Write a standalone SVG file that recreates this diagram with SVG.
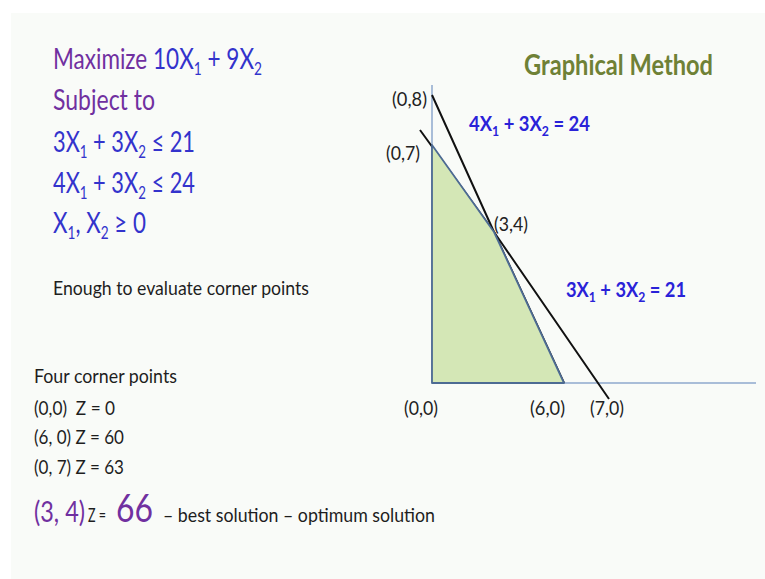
<svg xmlns="http://www.w3.org/2000/svg" width="765" height="579" viewBox="0 0 765 579">
<style>
text{font-family:Lato,"Open Sans","DejaVu Sans",sans-serif;}
.main{font-size:28px;fill:#3333cc;}
.pur{fill:#7030a0;}
.lbl{font-size:19.5px;fill:#222;}
.eq{font-size:21px;font-weight:bold;fill:#2a22d8;}
.blk{font-size:20px;fill:#1e1e1e;}
.ax{stroke:#a9bdd8;stroke-width:2;fill:none;}
.ln{stroke:#111;stroke-width:2;fill:none;}
</style>
<rect x="0" y="0" width="765" height="579" fill="#ffffff"/>
<rect x="11" y="13" width="754" height="566" fill="#f9fbf8"/>

<g id="objective">
<text class="main" x="53" y="69" textLength="209" lengthAdjust="spacingAndGlyphs"><tspan class="pur">Maximize </tspan>10X<tspan font-size="17" dy="6">1</tspan><tspan dy="-6"> + 9X</tspan><tspan font-size="17" dy="6">2</tspan></text>
<text class="main pur" x="53" y="110" textLength="102" lengthAdjust="spacingAndGlyphs">Subject to</text>
<text class="main" x="53" y="152" textLength="142" lengthAdjust="spacingAndGlyphs">3X<tspan font-size="17" dy="6">1</tspan><tspan dy="-6"> + 3X</tspan><tspan font-size="17" dy="6">2</tspan><tspan dy="-6"> ≤ 21</tspan></text>
<text class="main" x="53" y="193" textLength="142" lengthAdjust="spacingAndGlyphs">4X<tspan font-size="17" dy="6">1</tspan><tspan dy="-6"> + 3X</tspan><tspan font-size="17" dy="6">2</tspan><tspan dy="-6"> ≤ 24</tspan></text>
<text class="main" x="53" y="233" textLength="93" lengthAdjust="spacingAndGlyphs">X<tspan font-size="17" dy="6">1</tspan><tspan dy="-6">, X</tspan><tspan font-size="17" dy="6">2</tspan><tspan dy="-6"> ≥ 0</tspan></text>
</g>

<text id="note" class="blk" x="53" y="295" textLength="256" lengthAdjust="spacingAndGlyphs">Enough to evaluate corner points</text>

<text id="title" x="524" y="75" font-size="28" font-weight="bold" fill="#6f8136" textLength="189" lengthAdjust="spacingAndGlyphs">Graphical Method</text>

<g id="axes">
<line class="ax" x1="432" y1="85" x2="432" y2="383"/>
<line class="ax" x1="432" y1="383" x2="756" y2="383"/>
</g>

<g id="connectors">
<polyline class="ln" points="432,95 494,232 564,383"/>
<polyline class="ln" points="420,130 494,232 609,399"/>
</g>

<g id="feasible-region">
<polygon points="432,145 494,232 564,383 432,383" fill="#d4e7b6" stroke="#4d6b93" stroke-width="1.8" stroke-linejoin="round"/>
</g>

<g id="graph-labels">
<text class="lbl" x="392" y="106" textLength="35" lengthAdjust="spacingAndGlyphs">(0,8)</text>
<text class="lbl" x="386" y="160" textLength="34" lengthAdjust="spacingAndGlyphs">(0,7)</text>
<text class="lbl" x="494" y="231" textLength="34" lengthAdjust="spacingAndGlyphs">(3,4)</text>
<text class="lbl" x="404" y="415" textLength="34" lengthAdjust="spacingAndGlyphs">(0,0)</text>
<text class="lbl" x="530" y="415" textLength="35" lengthAdjust="spacingAndGlyphs">(6,0)</text>
<text class="lbl" x="590" y="415" textLength="34" lengthAdjust="spacingAndGlyphs">(7,0)</text>
<text class="eq" x="469" y="131" textLength="121" lengthAdjust="spacingAndGlyphs">4X<tspan font-size="14" dy="5">1</tspan><tspan dy="-5"> + 3X</tspan><tspan font-size="14" dy="5">2</tspan><tspan dy="-5"> = 24</tspan></text>
<text class="eq" x="566" y="297" textLength="120" lengthAdjust="spacingAndGlyphs">3X<tspan font-size="14" dy="5">1</tspan><tspan dy="-5"> + 3X</tspan><tspan font-size="14" dy="5">2</tspan><tspan dy="-5"> = 21</tspan></text>
</g>

<g id="corner-points">
<text class="blk" x="34" y="383" textLength="143" lengthAdjust="spacingAndGlyphs">Four corner points</text>
<text class="blk" x="34" y="415" textLength="81" lengthAdjust="spacingAndGlyphs">(0,0)&#160; Z = 0</text>
<text class="blk" x="34" y="444" textLength="90" lengthAdjust="spacingAndGlyphs">(6, 0) Z = 60</text>
<text class="blk" x="34" y="474" textLength="90" lengthAdjust="spacingAndGlyphs">(0, 7) Z = 63</text>
<text x="34" y="522" font-size="29" fill="#7030a0" textLength="51" lengthAdjust="spacingAndGlyphs">(3, 4)</text>
<text class="blk" x="88" y="522" textLength="18" lengthAdjust="spacingAndGlyphs">Z =</text>
<text x="116" y="522" font-size="39" fill="#7030a0" textLength="37" lengthAdjust="spacingAndGlyphs">66</text>
<text class="blk" x="163" y="522" textLength="272" lengthAdjust="spacingAndGlyphs">– best solution – optimum solution</text>
</g>
</svg>
